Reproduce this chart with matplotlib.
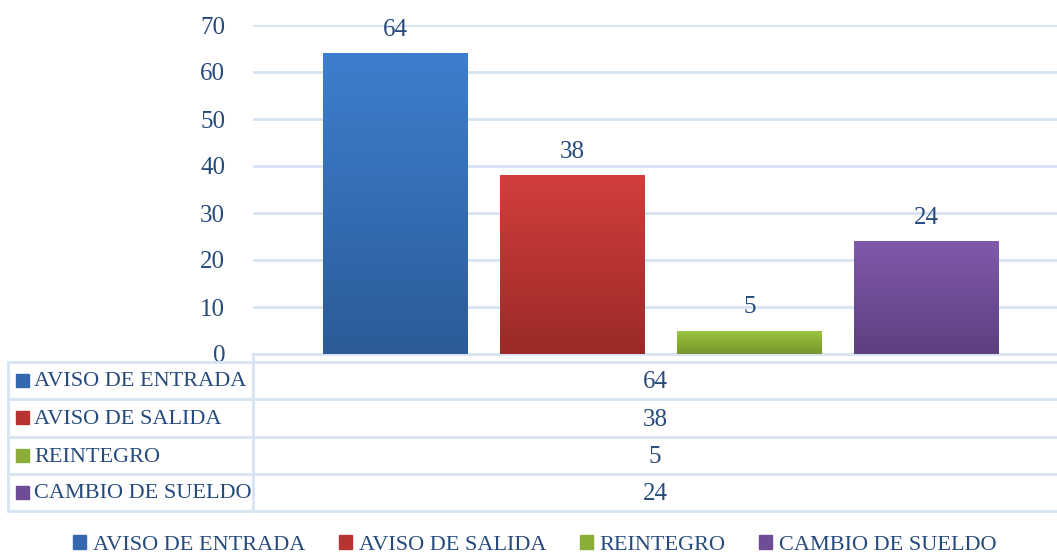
import numpy as np
import matplotlib
matplotlib.use("Agg")
import matplotlib.pyplot as plt
from matplotlib.colors import LinearSegmentedColormap
from matplotlib.patches import Rectangle
from matplotlib.lines import Line2D

# data
series = ["AVISO DE ENTRADA", "AVISO DE SALIDA", "REINTEGRO", "CAMBIO DE SUELDO"]
values = [64, 38, 5, 24]
yticks = [0, 10, 20, 30, 40, 50, 60, 70]

# gradient colours (top, bottom) for each series
top_colors = ["#3d7fce", "#d23e3b", "#9dc842", "#8159ab"]
bottom_colors = ["#2c5b98", "#9a2a27", "#76942c", "#5d4080"]
mid_colors = ["#3668b0", "#b83431", "#8aae37", "#6e4d96"]

text_color = "#264a7c"
grid_color = "#d7e4f4"
plt.rcParams["font.family"] = ["Liberation Serif", "DejaVu Serif"]

W, H = 1057, 556
fig = plt.figure(figsize=(W / 100, H / 100), dpi=100)

# plot area in pixel coordinates
left, right, top, bottom = 253, 1057, 25, 354
ax = fig.add_axes([left / W, 1 - bottom / H, (right - left) / W, (bottom - top) / H])

x = np.arange(len(values))
bar_w = 0.814
ax.set_xlim(-0.805, 3.737)
ax.set_ylim(0, 70)

bars = ax.bar(x, values, width=bar_w, color=mid_colors, zorder=2)
grad = np.linspace(1, 0, 256).reshape(-1, 1)
for b, c_top, c_bot, v in zip(bars, top_colors, bottom_colors, values):
    cmap = LinearSegmentedColormap.from_list("g", [c_bot, c_top])
    x0 = b.get_x()
    im = ax.imshow(grad, extent=[x0, x0 + b.get_width(), 0, b.get_height()],
                   aspect="auto", cmap=cmap, zorder=3, origin="upper")
    im.set_clip_path(b)
    ax.text(x0 + b.get_width() / 2, v + 4.9, str(v), ha="center", va="center",
            fontsize=18, color=text_color, clip_on=False)

ax.set_yticks(yticks)
ax.set_yticklabels([str(t) for t in yticks], fontsize=18, color=text_color)
ax.tick_params(axis="y", length=0, pad=20)
ax.set_xticks([])
ax.grid(axis="y", color=grid_color, linewidth=2, zorder=0)
for s in ["top", "right", "left"]:
    ax.spines[s].set_visible(False)
ax.spines["bottom"].set_color(grid_color)
ax.spines["bottom"].set_linewidth(2)

# data table below the plot
row_edges = [362, 399, 437, 474, 511]
tab_left, col_split = 8, 253


def fy(py):
    return 1 - py / H


def fx(px):
    return px / W


lw = 2
for ry in row_edges:
    fig.add_artist(Line2D([fx(tab_left), fx(right)], [fy(ry), fy(ry)],
                          color=grid_color, lw=lw))
fig.add_artist(Line2D([fx(tab_left), fx(tab_left)], [fy(row_edges[0]), fy(row_edges[-1])],
                      color=grid_color, lw=lw))
fig.add_artist(Line2D([fx(col_split), fx(col_split)], [fy(bottom), fy(row_edges[-1])],
                      color=grid_color, lw=lw))

for i, (name, v) in enumerate(zip(series, values)):
    yc = (row_edges[i] + row_edges[i + 1]) / 2
    fig.add_artist(Rectangle((fx(16), fy(yc + 6)), 13 / W, 13 / H,
                             color=mid_colors[i], transform=fig.transFigure))
    fig.text(fx(34), fy(yc + 1.5), name, ha="left", va="center", fontsize=16,
             color=text_color)
    fig.text(fx((col_split + right) / 2), fy(yc + 1.5), str(v), ha="center",
             va="center", fontsize=18, color=text_color)

# legend at bottom
handles = [Rectangle((0, 0), 1, 1, color=c) for c in mid_colors]
fig.legend(handles, series, loc="center", bbox_to_anchor=(0.506, fy(545)), ncol=4,
           frameon=False, fontsize=16, labelcolor=text_color, handlelength=0.6,
           handleheight=0.6, handletextpad=0.3, columnspacing=1.5)

fig.savefig("out.png", dpi=100)
